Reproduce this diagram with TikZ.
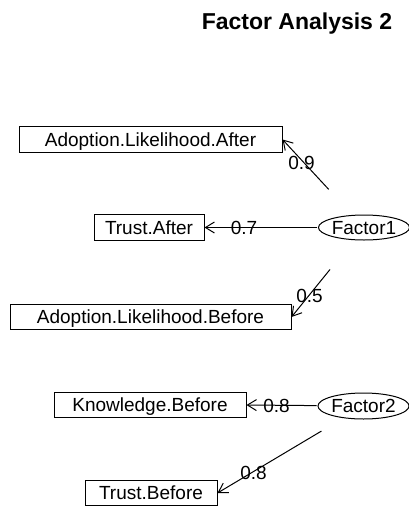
\documentclass[tikz,border=0pt]{standalone}
\usepackage{fontspec}
\setmainfont{Liberation Sans}
\usetikzlibrary{arrows.meta,shapes.geometric}

\tikzset{
  lbl/.style={font=\fontsize{19}{22}\selectfont, inner sep=0pt,
              text height=13.6pt, text depth=0pt},
  varbox/.style={lbl, draw, line width=1pt, minimum height=25.5pt},
  factor/.style={lbl, draw, ellipse, line width=1pt, inner sep=0pt},
  load/.style={lbl},
  loading/.style={draw, line width=1pt,
                  -{Straight Barb[length=9pt, width=11pt, line width=1pt]}},
}

\begin{document}
\begin{tikzpicture}[x=1pt, y=-1pt]
  \useasboundingbox (0,0) rectangle (409,507);

  % title
  \node[font=\fontsize{23}{27}\selectfont\bfseries, inner sep=0pt, anchor=base]
    (title) at (297,29.8) {Factor Analysis 2};

  % observed variables
  \node[varbox, minimum width=263pt] (aa) at (150.5,139.5) {Adoption.Likelihood.After};
  \node[varbox, minimum width=110pt] (ta) at (149,227.5) {Trust.After};
  \node[varbox, minimum width=281pt] (ab) at (150.5,317) {Adoption.Likelihood.Before};
  \node[varbox, minimum width=192pt] (kb) at (150,405) {Knowledge.Before};
  \node[varbox, minimum width=132pt] (tb) at (151,493) {Trust.Before};

  % latent factors
  \node[factor, minimum width=82pt, minimum height=25pt] (f1) at (364,227.5) {Factor1};
  \node[factor, minimum width=81pt, minimum height=26pt] (f2) at (363.5,406) {Factor2};

  % loadings
  \draw[loading, shorten <=52pt] (f1.center) -- (aa.east);
  \draw[loading, shorten <=47pt] (f1.center) -- (ta.east);
  \draw[loading, shorten <=54pt] (f1.center) -- (ab.east);
  \draw[loading, shorten <=47pt] (f2.center) -- (kb.east);
  \draw[loading, shorten <=49pt] (f2.center) -- (tb.east);

  % loading values
  \node[load] (l1) at (301.5,162.5) {0.9};
  \node[load] (l2) at (244,228) {0.7};
  \node[load] (l3) at (309.5,295.5) {0.5};
  \node[load] (l4) at (276.5,406) {0.8};
  \node[load] (l5) at (253.5,472.5) {0.8};
\end{tikzpicture}
\end{document}
